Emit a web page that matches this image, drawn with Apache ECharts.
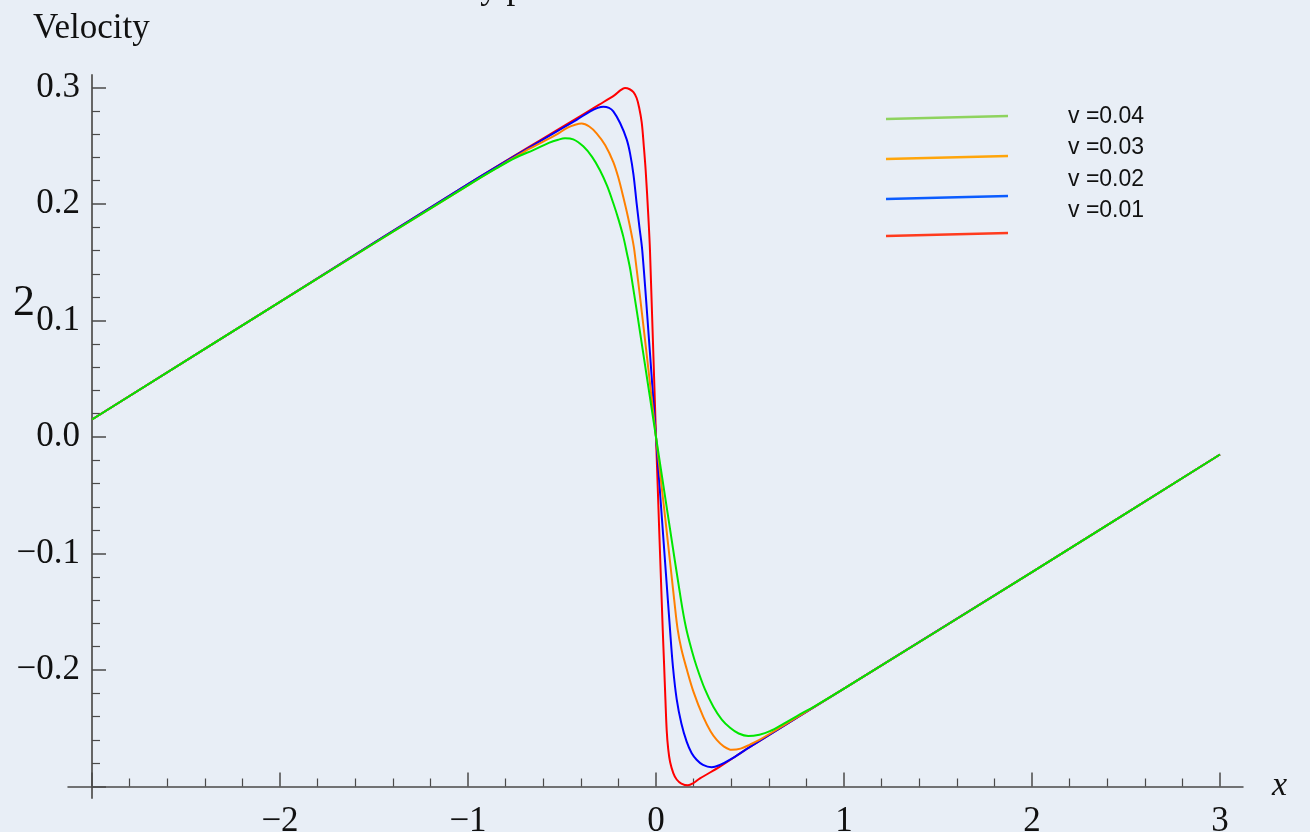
<!DOCTYPE html>
<html>
<head>
<meta charset="utf-8">
<script src="https://cdn.jsdelivr.net/npm/echarts@6/dist/echarts.min.js"></script>
<style>
  html, body { margin: 0; padding: 0; background: #e8eef6; }
  #chart { width: 1310px; height: 832px; }
</style>
</head>
<body>
<div id="chart"></div>
<script>
  // values, [x, velocity]
  var vel004 = [[-3, 0.015], [-2, 0.116], [-1, 0.216], [-0.85, 0.2305], [-0.75, 0.2395], [-0.65, 0.2465], [-0.57, 0.2525],
    [-0.52, 0.2552], [-0.484, 0.2564], [-0.44, 0.2555], [-0.387, 0.2495], [-0.34, 0.2405], [-0.298, 0.229],
    [-0.26, 0.2155], [-0.227, 0.2006], [-0.2, 0.187], [-0.174, 0.172], [-0.155, 0.158], [-0.135, 0.142],
    [-0.068, 0.072], [0, 0], [0.068, -0.072], [0.133, -0.14], [0.16, -0.164], [0.19, -0.183], [0.216, -0.197],
    [0.26, -0.2165], [0.305, -0.2315], [0.35, -0.2425], [0.394, -0.2495], [0.44, -0.2545], [0.491, -0.2567],
    [0.55, -0.2555], [0.606, -0.2525], [0.68, -0.246], [0.75, -0.2395], [0.85, -0.2305], [1, -0.216], [2, -0.116], [3, -0.015]];
  var vel003 = [[-3, 0.015], [-2, 0.116], [-1, 0.216], [-0.8, 0.2355], [-0.7, 0.245], [-0.6, 0.2535], [-0.53, 0.2595],
    [-0.47, 0.2655], [-0.43, 0.268], [-0.395, 0.269], [-0.355, 0.2665], [-0.316, 0.2607], [-0.27, 0.2505],
    [-0.227, 0.236], [-0.2, 0.2225], [-0.174, 0.206], [-0.15, 0.1895], [-0.129, 0.173], [-0.115, 0.16],
    [-0.058, 0.083], [0, 0], [0.05, -0.071], [0.097, -0.14], [0.115, -0.165], [0.135, -0.182], [0.163, -0.199],
    [0.2, -0.219], [0.252, -0.2405], [0.29, -0.2525], [0.323, -0.26], [0.36, -0.2655], [0.403, -0.2685],
    [0.45, -0.2675], [0.5, -0.264], [0.55, -0.26], [0.7, -0.2455], [1, -0.216], [2, -0.116], [3, -0.015]];
  var vel002 = [[-3, 0.015], [-2, 0.116], [-1, 0.217], [-0.6, 0.2555], [-0.5, 0.265], [-0.42, 0.2725], [-0.35, 0.2795],
    [-0.31, 0.2825], [-0.28, 0.2835], [-0.25, 0.2825], [-0.227, 0.2795], [-0.191, 0.2695], [-0.156, 0.2555],
    [-0.138, 0.2435], [-0.12, 0.2255], [-0.103, 0.2006], [-0.088, 0.18], [-0.073, 0.16], [-0.037, 0.083], [0, 0],
    [0.032, -0.071], [0.074, -0.164], [0.09, -0.197], [0.11, -0.225], [0.135, -0.246], [0.163, -0.2615],
    [0.19, -0.2715], [0.216, -0.277], [0.25, -0.2815], [0.296, -0.2835], [0.34, -0.2815], [0.394, -0.277],
    [0.5, -0.266], [1, -0.216], [2, -0.116], [3, -0.015]];
  var vel001 = [[-3, 0.015], [-2, 0.116], [-1, 0.217], [-0.5, 0.266], [-0.3, 0.2855], [-0.22, 0.2935], [-0.19, 0.2975],
    [-0.165, 0.2995], [-0.14, 0.2985], [-0.12, 0.296], [-0.103, 0.291], [-0.09, 0.283], [-0.076, 0.27],
    [-0.065, 0.25], [-0.055, 0.229], [-0.041, 0.19], [-0.032, 0.16], [0, 0], [0.036, -0.166], [0.043, -0.195],
    [0.05, -0.225], [0.057, -0.252], [0.065, -0.268], [0.075, -0.279], [0.092, -0.2885], [0.11, -0.294],
    [0.135, -0.2975], [0.17, -0.299], [0.2, -0.297], [0.234, -0.293], [0.34, -0.283], [0.5, -0.266],
    [1, -0.216], [2, -0.116], [3, -0.015]];

  var legendNames = ['v =0.04', 'v =0.03', 'v =0.02', 'v =0.01'];
  var legendColors = ['#8ed35e', '#ffa50a', '#0b5cff', '#ff3b1e'];

  var serif = '"Liberation Serif", "Times New Roman", serif';
  var axisColor = '#4a4a4a';

  function fmt(v, digits) {
    return v.toFixed(digits).replace('-', '\u2212');
  }

  var chart = echarts.init(document.getElementById('chart'));

  // hand-placed legend, spacing of swatches differs from spacing of labels
  var legendGraphics = [];
  var swatchY = [119, 159, 199, 236];
  var textY = [117, 148, 180, 211];
  for (var i = 0; i < 4; i++) {
    legendGraphics.push({
      type: 'line',
      shape: { x1: 886, y1: swatchY[i], x2: 1008, y2: swatchY[i] - 3 },
      style: { stroke: legendColors[i], lineWidth: 2.5 }
    });
    legendGraphics.push({
      type: 'text', x: 1068, y: textY[i],
      style: { text: legendNames[i], font: '23px "Liberation Sans", Arial, sans-serif', fill: '#111', verticalAlign: 'middle' }
    });
  }

  var lineSeries = [
    { name: 'v =0.01', data: vel001, color: '#ff0000' },
    { name: 'v =0.02', data: vel002, color: '#0000ff' },
    { name: 'v =0.03', data: vel003, color: '#ff8000' },
    { name: 'v =0.04', data: vel004, color: '#00e600' }
  ].map(function (s, k) {
    return {
      name: s.name, type: 'line', data: s.data, showSymbol: false, smooth: 0.35,
      lineStyle: { color: s.color, width: 2 }, z: 2 + k
    };
  });

  chart.setOption({
    backgroundColor: '#e8eef6',
    animation: false,
    graphic: legendGraphics.concat([
      { type: 'text', x: 33, y: 29, style: { text: 'Velocity', font: '35px ' + serif, fill: '#111', verticalAlign: 'middle' } },
      { type: 'text', x: 13, y: 303, style: { text: '2', font: '44px ' + serif, fill: '#111', verticalAlign: 'middle' } },
      { type: 'text', x: 381, y: -11, style: { text: 'Velocity profile', font: '35px ' + serif, fill: '#111', verticalAlign: 'middle' } }
    ]),
    grid: [
      { left: 92, right: 90, top: 87.5, bottom: 45.5, outerBoundsMode: 'none', containLabel: false },
      { left: 92, right: 90, top: 75, bottom: 34, outerBoundsMode: 'none', containLabel: false },
      { left: 68, right: 67, top: 87.5, bottom: 45.5, outerBoundsMode: 'none', containLabel: false }
    ],
    xAxis: [
      {
        type: 'value', gridIndex: 0, min: -3, max: 3, interval: 1,
        axisLine: { show: false, onZero: false },
        axisTick: { inside: true, length: 14, lineStyle: { color: axisColor, width: 1.5 } },
        minorTick: { show: true, splitNumber: 5, length: 8, lineStyle: { color: axisColor, width: 1.2 } },
        splitLine: { show: false },
        axisLabel: {
          margin: 18, color: '#111', fontFamily: serif, fontSize: 35,
          formatter: function (v) { return v === -3 ? '' : fmt(v, 0); }
        }
      },
      { type: 'value', gridIndex: 1, show: false, min: 0, max: 1 },
      {
        type: 'value', gridIndex: 2, min: 0, max: 1,
        axisLine: { onZero: false, lineStyle: { color: axisColor, width: 1.5 } },
        axisTick: { show: false }, axisLabel: { show: false }, splitLine: { show: false },
        name: 'x', nameLocation: 'end', nameGap: 29,
        nameTextStyle: { fontFamily: serif, fontStyle: 'italic', fontSize: 34, color: '#111' }
      }
    ],
    yAxis: [
      {
        type: 'value', gridIndex: 0, min: -0.3, max: 0.3, interval: 0.1,
        axisLine: { show: false, onZero: false },
        axisTick: { inside: true, length: 14, lineStyle: { color: axisColor, width: 1.5 } },
        minorTick: { show: true, splitNumber: 5, length: 8, lineStyle: { color: axisColor, width: 1.2 } },
        splitLine: { show: false },
        axisLabel: {
          margin: 12, color: '#111', fontFamily: serif, fontSize: 35,
          formatter: function (v) { return Math.abs(v + 0.3) < 1e-6 ? '' : fmt(v, 1); }
        }
      },
      {
        type: 'value', gridIndex: 1, min: 0, max: 1,
        axisLine: { show: true, onZero: false, lineStyle: { color: '#666', width: 2 } },
        axisTick: { show: false }, axisLabel: { show: false }, splitLine: { show: false }
      },
      { type: 'value', gridIndex: 2, show: false, min: 0, max: 1 }
    ],
    series: lineSeries
  });
</script>
</body>
</html>
